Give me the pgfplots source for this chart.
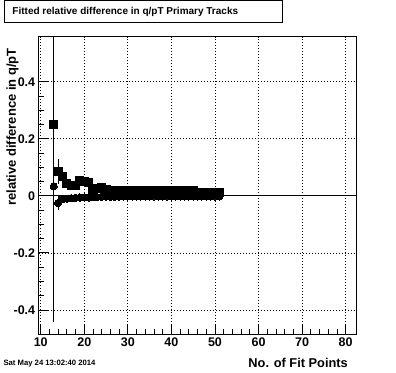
\documentclass[border=0pt]{standalone}
\usepackage{fontspec}
\setmainfont{Liberation Sans}
\usepackage{pgfplots}
\usepackage{pgfplotstable}
\pgfplotsset{compat=1.18}

\pgfplotstableread{
x y e
13 0.250 0.693
14 0.084 0.044
15 0.069 0.020
16 0.042 0.014
17 0.037 0.012
18 0.037 0.010
19 0.055 0.010
20 0.051 0.009
21 0.046 0.008
22 0.022 0.008
23 0.027 0.007
24 0.030 0.007
25 0.021 0.006
26 0.019 0.006
27 0.020 0.005
28 0.019 0.005
29 0.020 0.005
30 0.019 0.005
31 0.019 0.005
32 0.020 0.005
33 0.019 0.005
34 0.019 0.005
35 0.019 0.005
36 0.018 0.005
37 0.019 0.005
38 0.018 0.005
39 0.018 0.005
40 0.018 0.005
41 0.018 0.005
42 0.018 0.005
43 0.018 0.005
44 0.018 0.005
45 0.018 0.005
46 0.013 0.005
47 0.013 0.005
48 0.013 0.005
49 0.013 0.005
50 0.013 0.005
51 0.013 0.005
}\sqdata

\pgfplotstableread{
x y e
13 0.034 0.010
14 -0.025 0.024
15 -0.012 0.012
16 -0.010 0.009
17 -0.008 0.008
18 -0.007 0.007
19 -0.006 0.006
20 -0.005 0.006
21 -0.006 0.006
22 -0.004 0.005
23 -0.004 0.005
24 -0.003 0.005
25 -0.003 0.005
26 -0.003 0.004
27 -0.003 0.004
28 -0.003 0.004
29 -0.002 0.004
30 -0.002 0.004
31 -0.002 0.004
32 -0.002 0.004
33 -0.002 0.004
34 -0.002 0.004
35 -0.002 0.004
36 -0.002 0.004
37 -0.002 0.004
38 -0.002 0.004
39 -0.002 0.004
40 -0.002 0.004
41 -0.002 0.004
42 -0.002 0.004
43 -0.002 0.004
44 -0.002 0.004
45 -0.002 0.004
46 -0.002 0.004
47 -0.002 0.004
48 -0.002 0.004
49 -0.002 0.004
50 -0.002 0.004
51 -0.002 0.004
}\cidata

\begin{document}
\begin{tikzpicture}
\useasboundingbox (0pt,0pt) rectangle (396pt,372pt);
\begin{axis}[
  scale only axis,
  at={(38.7pt,38pt)}, anchor=south west,
  width=317.3pt, height=297.3pt,
  xmin=9.54, xmax=82.37,
  ymin=-0.484, ymax=0.5577,
  xtick={10,20,...,80},
  minor x tick num=4,
  ytick={-0.4,-0.2,0,0.2,0.4},
  yticklabels={-0.4,-0.2,0,0.2,0.4},
  minor y tick num=3,
  xtick pos=bottom, ytick pos=left,
  tick align=inside,
  major tick length=10pt, minor tick length=5pt,
  every tick/.style={black, line width=0.9pt},
  axis line style={line width=1pt},
  grid=major,
  major grid style={black, line width=0.8pt, dash pattern=on 1pt off 2pt},
  tick label style={font=\fontsize{12.5}{14}\selectfont\bfseries},
  /pgf/number format/assume math mode=true,
  clip=true,
]
\addplot[black, line width=1pt] coordinates {(9.54,0) (82.37,0)};
\addplot[only marks, black, mark=square*, mark size=4pt,
  mark options={line width=0pt},
  error bars/.cd, y dir=both, y explicit, error mark=none,
  error bar style={line width=1pt, black}]
  table[x=x, y=y, y error=e] {\sqdata};
\addplot[only marks, black, mark=*, mark size=3.6pt,
  mark options={line width=0pt},
  error bars/.cd, y dir=both, y explicit, error mark=none,
  error bar style={line width=1pt, black}]
  table[x=x, y=y, y error=e] {\cidata};
\end{axis}
\node[rotate=90, inner sep=0pt, font=\fontsize{13}{15}\selectfont\bfseries] at (12.5pt,245pt) {relative difference in q/pT};
\node[anchor=base east, inner sep=0pt, font=\fontsize{12.8}{15}\selectfont\bfseries] at (348pt,4.5pt) {No. of Fit Points};
\node[anchor=base west, inner sep=0pt, font=\fontsize{7.7}{9}\selectfont\bfseries] at (3.3pt,6pt) {Sat May 24 13:02:40 2014};
\draw[line width=1pt] (4pt,349.3pt) rectangle (282pt,371pt);
\node[anchor=west, inner sep=0pt, font=\fontsize{10}{12}\selectfont\bfseries] at (12.3pt,360.2pt) {Fitted relative difference in q/pT Primary Tracks};
\end{tikzpicture}
\end{document}
